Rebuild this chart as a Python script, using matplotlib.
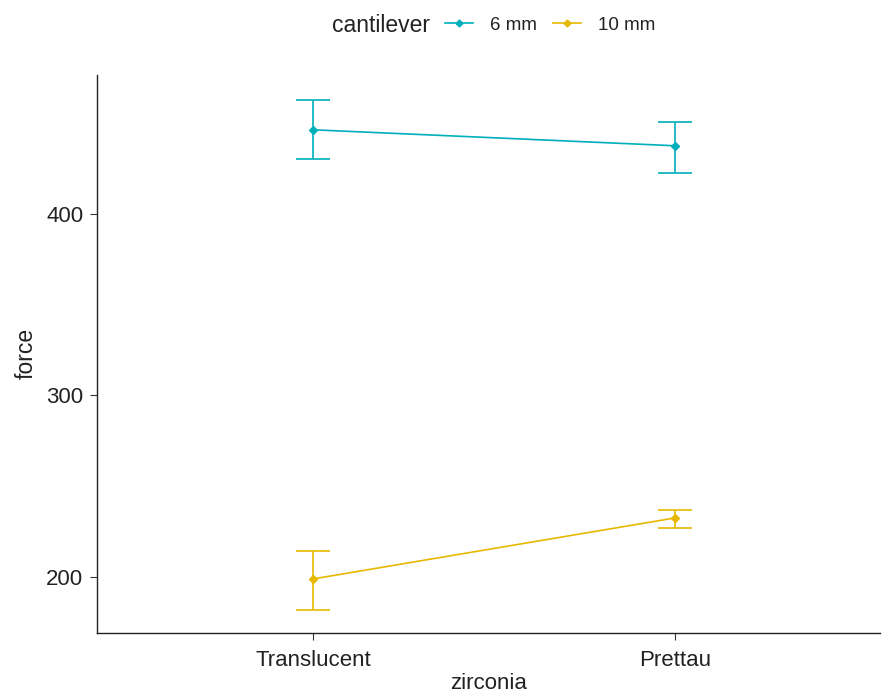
import numpy as np
import matplotlib.pyplot as plt
from matplotlib.lines import Line2D

plt.rcParams['font.family'] = ['Liberation Sans', 'DejaVu Sans']

zirconia = ['Translucent', 'Prettau']
groups = ['6 mm', '10 mm']
colors = ['#00AFBB', '#E7B800']

mean_6 = [446.3, 437.5]
upper_6 = [462.8, 450.7]
lower_6 = [430.3, 422.6]

mean_10 = [198.9, 232.5]
upper_10 = [214.3, 236.9]
lower_10 = [181.8, 227.0]

fig = plt.figure(figsize=(8.83, 6.99), dpi=100)
ax = fig.add_axes([0.110, 0.0944, 0.8866, 0.7986])

x = np.arange(1, len(zirconia) + 1)
series = [(mean_6, upper_6, lower_6), (mean_10, upper_10, lower_10)]
for (m, up, lo), c in zip(series, colors):
    m = np.array(m)
    yerr = [m - np.array(lo), np.array(up) - m]
    ax.errorbar(x, m, yerr=yerr, color=c, marker='D', markersize=4.5,
                lw=1.2, elinewidth=1.2, capsize=12.5, capthick=1.2)

ax.set_xlim(0.403, 2.566)
ax.set_ylim(169.1, 476.6)
ax.set_xticks(x)
ax.set_xticklabels(zirconia)
ax.set_yticks([200, 300, 400])
ax.tick_params(labelsize=16, colors='#333333', length=5, width=0.8, labelcolor='#222222')
ax.tick_params(axis='x', pad=7)
ax.tick_params(axis='y', pad=5)
ax.spines['top'].set_visible(False)
ax.spines['right'].set_visible(False)
for s in ['left', 'bottom']:
    ax.spines[s].set_linewidth(1.0)
    ax.spines[s].set_color('#222222')
ax.set_xlabel('zirconia', fontsize=16, labelpad=2, color='#222222')
ax.set_ylabel('force', fontsize=16.5, labelpad=6, color='#222222')

fig.text(0.376, 0.964, 'cantilever', fontsize=16.5, va='center', ha='left', color='#222222')
handles = [Line2D([0], [0], color=c, marker='D', markersize=3.5, lw=1.2) for c in colors]
fig.legend(handles, groups, ncol=2, loc='center left', bbox_to_anchor=(0.504, 0.964),
           frameon=False, fontsize=13.5, handlelength=1.5, columnspacing=0.85,
           handletextpad=0.9, borderpad=0, borderaxespad=0, labelcolor='#222222')

fig.savefig('out.png', dpi=100)
